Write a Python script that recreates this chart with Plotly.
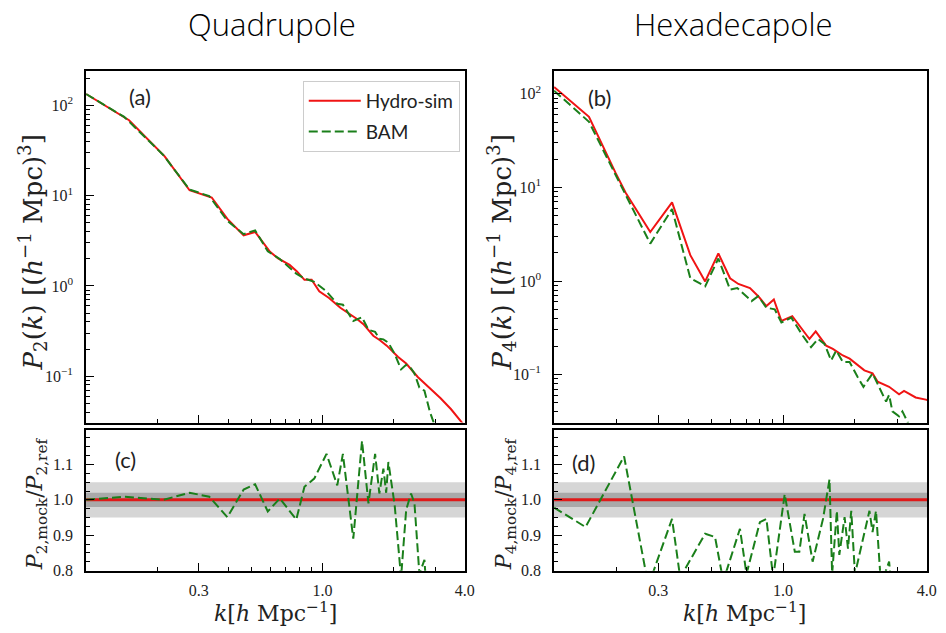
import math
import plotly.graph_objects as go

W, H = 946, 633

# ---------------- data ----------------
# Quadrupole, hydrodynamical simulation
k_p2_hydro = [0.100, 0.152, 0.215, 0.274, 0.340, 0.396, 0.464, 0.519, 0.600, 0.649, 0.726, 0.780,
              0.839, 0.900, 0.969, 1.066, 1.19, 1.31, 1.40, 1.49, 1.64, 1.75, 1.87, 2.09, 2.26,
              2.53, 2.87, 3.16, 3.50, 3.83, 4.0]
p2_hydro = [134, 68.7, 27.3, 11.5, 9.56, 5.53, 3.64, 3.96, 2.39, 2.02, 1.71, 1.45,
            1.17, 1.17, 0.873, 0.737, 0.573, 0.485, 0.43, 0.377, 0.281, 0.25, 0.218, 0.163, 0.138,
            0.098, 0.073, 0.057, 0.043, 0.032, 0.028]

# Quadrupole, BAM mock
k_p2_bam = [0.100, 0.145, 0.212, 0.274, 0.332, 0.396, 0.464, 0.519, 0.587, 0.660, 0.775, 0.839,
            0.923, 1.04, 1.155, 1.22, 1.35, 1.47, 1.565, 1.67, 1.74, 1.81, 1.90, 2.02, 2.15,
            2.26, 2.37, 2.45, 2.57, 2.70, 2.85, 2.95, 3.05]
p2_bam = [134, 74.7, 28.3, 11.7, 9.9, 5.26, 3.75, 4.13, 2.42, 1.99, 1.37, 1.21,
          1.11, 0.87, 0.635, 0.62, 0.41, 0.45, 0.327, 0.31, 0.26, 0.256, 0.235, 0.177, 0.119,
          0.134, 0.122, 0.107, 0.075, 0.069, 0.040, 0.031, 0.022]

# Quadrupole ratio mock / reference
k_r2 = [0.100, 0.145, 0.212, 0.274, 0.332, 0.396, 0.464, 0.519, 0.587, 0.660, 0.775, 0.839,
        0.923, 1.04, 1.155, 1.22, 1.35, 1.47, 1.565, 1.67, 1.74, 1.81, 1.86, 1.90, 2.02,
        2.15, 2.26, 2.37, 2.45, 2.57, 2.70, 2.85, 2.95, 3.05]
r2 = [1.000, 1.009, 1.000, 1.020, 1.009, 0.951, 1.029, 1.044, 0.967, 1.004, 0.944, 1.037,
      1.060, 1.130, 1.041, 1.130, 0.890, 1.167, 0.990, 1.130, 1.018, 1.088, 1.020, 1.107, 0.985,
      0.780, 0.972, 1.018, 0.990, 0.790, 0.830, 0.550, 0.450, 0.300]

# Hexadecapole, hydrodynamical simulation
k_p4_hydro = [0.110, 0.154, 0.199, 0.219, 0.278, 0.343, 0.409, 0.472, 0.536, 0.600, 0.650, 0.727,
              0.787, 0.852, 0.915, 0.984, 1.093, 1.20, 1.29, 1.37, 1.515, 1.616, 1.78, 1.90,
              2.05, 2.19, 2.37, 2.49, 2.78, 3.06, 3.21, 3.59, 3.96, 4.05]
p4_hydro = [118, 56.8, 14.3, 8.81, 3.34, 6.92, 1.89, 0.99, 1.97, 1.07, 0.93, 0.84,
            0.688, 0.54, 0.635, 0.375, 0.42, 0.31, 0.24, 0.289, 0.204, 0.188, 0.16, 0.148,
            0.126, 0.111, 0.103, 0.0838, 0.0741, 0.0617, 0.067, 0.057, 0.054, 0.053]

# Hexadecapole, BAM mock
k_p4_bam = [0.110, 0.154, 0.194, 0.219, 0.278, 0.343, 0.409, 0.472, 0.536, 0.600, 0.643, 0.738,
            0.787, 0.852, 0.923, 0.984, 1.083, 1.21, 1.31, 1.40, 1.49, 1.59, 1.67, 1.78, 1.90,
            2.05, 2.17, 2.37, 2.53, 2.70, 2.78, 2.87, 3.06, 3.16, 3.31, 3.45]
p4_bam = [108, 50.3, 15.5, 8.5, 2.51, 5.87, 1.07, 0.877, 1.74, 0.81, 0.84, 0.61,
          0.688, 0.518, 0.498, 0.36, 0.406, 0.26, 0.196, 0.24, 0.213, 0.142, 0.181, 0.136, 0.136,
          0.0946, 0.074, 0.103, 0.0714, 0.0515, 0.0606, 0.0404, 0.0358, 0.0404, 0.0317, 0.025]

# Hexadecapole ratio mock / reference
k_r4 = [0.110, 0.149, 0.216, 0.273, 0.343, 0.371, 0.472, 0.519, 0.562, 0.660, 0.703, 0.800,
        0.852, 0.909, 1.016, 1.12, 1.17, 1.23, 1.33, 1.47, 1.565, 1.605, 1.68, 1.72, 1.81,
        1.87, 1.93, 2.00, 2.30, 2.37, 2.45, 2.57, 2.78, 2.90]
r4 = [0.978, 0.923, 1.123, 0.757, 0.946, 0.780, 0.904, 0.895, 0.770, 0.918, 0.790, 0.937,
      0.946, 0.780, 1.016, 0.853, 0.853, 0.960, 0.825, 0.946, 1.058, 0.790, 0.969, 0.844, 0.951,
      0.862, 0.969, 0.790, 0.969, 0.909, 0.969, 0.760, 0.825, 0.700]

# reference level and tolerance bands of the ratio panels
k_ref = [0.09, 4.2]
r_ref = [1.0, 1.0]
band_outer = [0.95, 1.05]
band_inner = [0.98, 1.02]

panel_titles = ["Quadrupole", "Hexadecapole"]
panel_tags = ["(a)", "(b)", "(c)", "(d)"]
x_ticks = [0.3, 1.0, 4.0]
x_ticktext = ["0.3", "1.0", "4.0"]
x_minor = [0.2, 0.4, 0.5, 0.6, 0.7, 0.8, 0.9, 2.0, 3.0]
y_log_ticks = [0.1, 1, 10, 100]
y_log_text = ["10<sup>−1</sup>", "10<sup>0</sup>", "10<sup>1</sup>", "10<sup>2</sup>"]
y_log_minor = [m * d for d in (0.01, 0.1, 1, 10, 100) for m in range(2, 10)]
r_ticks = [0.8, 0.9, 1.0, 1.1]
r_ticktext = ["0.8", "0.9", "1.0", "1.1"]

RED = "#f01414"
GREEN = "#1a7f1a"
DASH = "9px,4px"
SERIF = "Liberation Serif, DejaVu Serif, serif"
TITLE_SERIF = "DejaVu Serif, serif"
SANS = "Lato, Open Sans, sans-serif"


def fx(px):
    return px / W


def fy(py):
    return 1 - py / H


# pixel frames of the four panels
LEFT = (87, 470)
RIGHT = (560, 937)
MAIN = (428, 72)
RATIO = (578, 435)

XR_LEFT = [math.log10(0.1), math.log10(4.0) + 0.001]
XR_RIGHT = [math.log10(0.11), math.log10(4.0) + 0.001]
YR_A = [-1.514, 2.381]
YR_B = [-1.513, 2.243]
YR_R = [0.7995, 1.199]

tickstyle = dict(ticks="inside", ticklen=8, tickwidth=1.3, tickcolor="black",
                 showgrid=False, zeroline=False)
frame = dict(showline=True, linecolor="black", linewidth=1.8, mirror=True)
lab_font = dict(family=SERIF, size=16, color="#222")


def minor(vals=None, dtick=None):
    m = dict(ticks="inside", ticklen=4, tickwidth=1, tickcolor="black", showgrid=False)
    if vals is not None:
        m.update(tickmode="array", tickvals=vals)
    else:
        m.update(dtick=dtick)
    return m


layout = dict(width=W, height=H, margin=dict(l=0, r=0, t=0, b=0),
              paper_bgcolor="white", plot_bgcolor="white", showlegend=True)

# panels: (index, x frame, x range, y frame, y range, y kind, show x labels)
panels = [
    (1, LEFT, XR_LEFT, MAIN, YR_A, "log", False),
    (2, LEFT, XR_LEFT, RATIO, YR_R, "lin", True),
    (3, RIGHT, XR_RIGHT, MAIN, YR_B, "log", False),
    (4, RIGHT, XR_RIGHT, RATIO, YR_R, "lin", True),
]
for i, xdom, xr, ydom, yr, ykind, xlab in panels:
    xn = "xaxis" if i == 1 else f"xaxis{i}"
    yn = "yaxis" if i == 1 else f"yaxis{i}"
    ya = "y" if i == 1 else f"y{i}"
    xa = "x" if i == 1 else f"x{i}"
    xbase = dict(tickstyle, type="log", domain=[fx(xdom[0]), fx(xdom[1])], range=xr,
                 tickmode="array", tickvals=x_ticks, ticktext=x_ticktext,
                 minor=minor(x_minor))
    layout[xn] = dict(xbase, **frame, anchor=ya, showticklabels=xlab, tickfont=lab_font,
                      ticklabelstandoff=4)
    # twin axis carrying the ticks along the top edge
    layout[f"xaxis{i + 4}"] = dict(xbase, overlaying=xa, side="top", anchor=ya,
                                   showticklabels=False, showline=False)
    if ykind == "log":
        ybase = dict(tickstyle, type="log", domain=[fy(ydom[0]), fy(ydom[1])], range=yr,
                     tickmode="array", tickvals=y_log_ticks, ticktext=y_log_text,
                     minor=minor(y_log_minor))
    else:
        ybase = dict(tickstyle, domain=[fy(ydom[0]), fy(ydom[1])], range=yr,
                     tickmode="array", tickvals=r_ticks, ticktext=r_ticktext,
                     minor=minor(dtick=0.025))
    layout[yn] = dict(ybase, **frame, anchor=xa, tickfont=lab_font, ticklabelstandoff=8)
    # twin axis carrying the ticks along the right edge
    layout[f"yaxis{i + 4}"] = dict(ybase, overlaying=ya, side="right", anchor=xa,
                                   showticklabels=False, showline=False)

fig = go.Figure()
fig.update_layout(**layout)

# tolerance bands
shapes = []
for xa, ya in [("x2", "y2"), ("x4", "y4")]:
    shapes.append(dict(type="rect", xref=f"{xa} domain", yref=ya, x0=0, x1=1,
                       y0=band_outer[0], y1=band_outer[1], fillcolor="#d6d6d6",
                       line_width=0, layer="below"))
    shapes.append(dict(type="rect", xref=f"{xa} domain", yref=ya, x0=0, x1=1,
                       y0=band_inner[0], y1=band_inner[1], fillcolor="#a9a9a9",
                       line_width=0, layer="below"))
fig.update_layout(shapes=shapes)

# main panels
fig.add_trace(go.Scatter(x=k_p2_hydro, y=p2_hydro, mode="lines", name="Hydro-sim",
                         line=dict(color=RED, width=2), xaxis="x", yaxis="y",
                         legendgroup="h"))
fig.add_trace(go.Scatter(x=k_p2_bam, y=p2_bam, mode="lines", name="BAM",
                         line=dict(color=GREEN, width=2, dash=DASH),
                         xaxis="x", yaxis="y", legendgroup="b"))
fig.add_trace(go.Scatter(x=k_p4_hydro, y=p4_hydro, mode="lines", showlegend=False,
                         line=dict(color=RED, width=2), xaxis="x3", yaxis="y3"))
fig.add_trace(go.Scatter(x=k_p4_bam, y=p4_bam, mode="lines", showlegend=False,
                         line=dict(color=GREEN, width=2, dash=DASH),
                         xaxis="x3", yaxis="y3"))

# ratio panels
for xa, ya, kr, rr in [("x2", "y2", k_r2, r2), ("x4", "y4", k_r4, r4)]:
    fig.add_trace(go.Scatter(x=k_ref, y=r_ref, mode="lines", showlegend=False,
                             line=dict(color="#e01818", width=3), xaxis=xa, yaxis=ya))
    fig.add_trace(go.Scatter(x=kr, y=rr, mode="lines", showlegend=False,
                             line=dict(color=GREEN, width=2, dash=DASH),
                             xaxis=xa, yaxis=ya))

fig.update_layout(legend=dict(
    x=fx(306), y=fy(82), xanchor="left", yanchor="top",
    bgcolor="white", bordercolor="#cccccc", borderwidth=1,
    font=dict(family=SANS, size=19, color="#222"), itemwidth=52,
    tracegroupgap=3,
))

ann = []
# column titles
for txt, cx in zip(panel_titles, [275, 741]):
    ann.append(dict(text=txt, x=fx(cx), y=fy(24), xref="paper", yref="paper",
                    showarrow=False, xanchor="center", yanchor="middle",
                    font=dict(family="Open Sans, sans-serif", size=31, color="#000",
                              weight=300)))
# panel tags
for txt, (cx, cy) in zip(panel_tags, [(142, 98), (606, 99), (127, 465), (590, 468)]):
    ann.append(dict(text=txt, x=fx(cx), y=fy(cy), xref="paper", yref="paper",
                    showarrow=False, xanchor="center", yanchor="middle",
                    font=dict(family=SANS, size=22, color="#222")))
# axis titles
ytitles = [
    ("<i>P</i><sub>2</sub>(<i>k</i>) [(<i>h</i><sup>−1</sup> Mpc)<sup>3</sup>]", 33, 256, 26),
    ("<i>P</i><sub>4</sub>(<i>k</i>) [(<i>h</i><sup>−1</sup> Mpc)<sup>3</sup>]", 507, 256, 26),
    ("<i>P</i><sub>2,mock</sub>/<i>P</i><sub>2,ref</sub>", 37, 510, 22),
    ("<i>P</i><sub>4,mock</sub>/<i>P</i><sub>4,ref</sub>", 511, 510, 22),
]
for txt, cx, cy, fs in ytitles:
    ann.append(dict(text=txt, x=fx(cx), y=fy(cy), xref="paper", yref="paper",
                    showarrow=False, textangle=-90, xanchor="center", yanchor="middle",
                    font=dict(family=TITLE_SERIF, size=fs, color="#222")))
for cx in [278, 752]:
    ann.append(dict(text="<i>k</i>[<i>h</i> Mpc<sup>−1</sup>]", x=fx(cx), y=fy(620),
                    xref="paper", yref="paper", showarrow=False,
                    xanchor="center", yanchor="middle",
                    font=dict(family=TITLE_SERIF, size=22, color="#222")))
fig.update_layout(annotations=ann)

fig.write_html("out.html")
